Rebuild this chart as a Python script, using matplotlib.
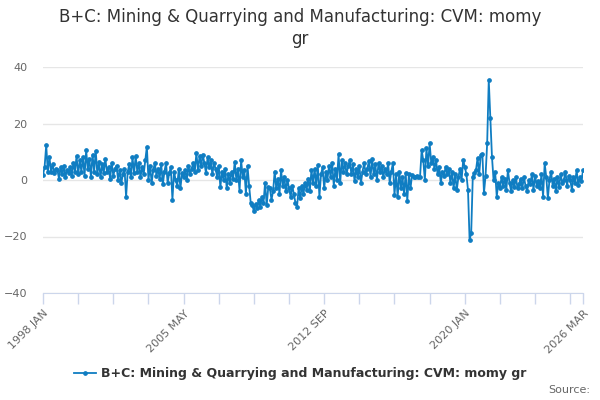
import numpy as np
import matplotlib.pyplot as plt

# monthly values, 1998 JAN .. 2026 MAR
y1998 = [1.8, 4.7, 12.4, 2.8, 8.2, 3.0, 5.5, 2.5, 4.0, 3.5, 0.5, 4.5]
y1999 = [2.0, 5.0, 1.0, 3.5, 2.5, 4.5, 1.5, 6.0, 3.0, 8.5, 2.0, 7.0]
y2000 = [3.0, 8.0, 1.5, 10.5, 4.0, 7.5, 1.0, 9.0, 3.0, 10.3, 2.0, 6.5]
y2001 = [1.0, 5.5, 2.5, 7.5, 3.0, 4.5, 0.5, 6.0, 1.5, 4.0, 5.0, 0.0]
y2002 = [3.5, -1.0, 2.0, 4.0, -6.0, 3.0, 5.5, 1.0, 8.0, 2.5, 8.5, 3.0]
y2003 = [6.0, 1.0, 4.5, 2.0, 7.0, 11.8, 0.0, 5.0, -1.0, 3.5, 6.0, 1.5]
y2004 = [4.0, 0.5, 5.5, -1.5, 3.0, 6.0, -1.0, 2.5, 4.5, -7.0, 3.0, 0.0]
y2005 = [-2.0, 4.0, -3.0, 2.5, 1.0, 3.5, 0.0, 5.0, 2.0, 4.0, 6.0, 3.0]
y2006 = [9.5, 3.5, 8.5, 5.0, 9.0, 6.0, 2.5, 8.0, 4.5, 7.0, 2.0, 6.0]
y2007 = [4.0, 1.0, 5.0, -2.5, 3.0, 0.0, 4.0, -3.0, 2.0, -1.0, 3.0, 0.5]
y2008 = [6.5, 0.0, 4.0, -4.0, 7.0, 1.0, 3.5, -5.0, 5.0, -2.0, -8.0, -9.0]
y2009 = [-11.0, -8.5, -10.0, -7.0, -9.5, -6.0, -8.0, -1.0, -9.0, -2.5, -3.0, -7.0]
y2010 = [-4.0, 3.0, -3.0, 0.5, -5.0, 3.5, -2.0, 1.0, -4.0, 0.0, -3.0, -6.0]
y2011 = [-2.0, -5.0, -8.0, -9.4, -3.0, -6.5, -2.0, -5.0, -1.0, -3.5, 0.5, -4.0]
y2012 = [3.5, -1.0, 4.0, -2.0, 5.3, -5.9, 2.0, 4.5, -3.0, 3.0, 0.0, 5.0]
y2013 = [1.0, 6.0, -2.0, 4.0, 0.0, 9.2, -1.0, 7.0, 3.0, 6.0, 2.0, 5.0]
y2014 = [7.0, 2.0, 5.5, -0.5, 4.0, 1.0, 5.0, -1.0, 3.0, 6.0, 2.0, 4.0]
y2015 = [6.8, 1.0, 7.4, 2.0, 5.5, 0.0, 6.0, 3.0, 5.0, 1.0, 4.0, 2.0]
y2016 = [6.0, -1.0, 3.0, 6.0, -5.3, 2.0, -6.0, 3.0, -3.0, 1.0, -5.0, 2.5]
y2017 = [-7.3, 2.0, -3.0, 1.8, 1.2, 1.0, 1.5, 1.0, 1.2, 10.6, 7.0, 0.0]
y2018 = [11.3, 5.0, 13.0, 6.0, 8.0, 4.0, 7.0, 2.0, 4.5, -1.0, 3.0, 1.5]
y2019 = [4.7, 2.0, 4.0, -1.0, 3.0, -2.9, 2.0, -3.5, 1.0, 4.0, 0.0, 7.0]
y2020 = [4.7, 2.0, -3.5, -21.2, -18.9, 1.2, 2.4, 3.5, 7.8, 2.0, 8.8, 9.3]
y2021 = [-4.6, 1.5, 13.0, 35.4, 21.8, 8.3, 0.0, 2.9, -5.9, -1.0, -3.0, 1.0]
y2022 = [-2.0, 0.5, -3.5, 3.5, -1.0, -4.0, 0.0, -2.5, 1.0, -3.0, -1.5, 0.5]
y2023 = [-3.0, 1.0, -2.0, -4.0, 0.0, -1.5, 2.0, -3.5, 1.5, -2.0, -0.5, -3.0]
y2024 = [2.0, -5.9, 5.9, 1.0, -6.5, 0.0, 3.0, -2.0, 0.5, -4.0, 1.0, -2.5]
y2025 = [2.0, -1.0, 0.0, 3.0, -2.0, 1.5, 0.0, -3.5, 1.0, -1.0, 3.5, -1.8]
y2026 = [1.0, -0.5, 3.5]

values = (y1998 + y1999 + y2000 + y2001 + y2002 + y2003 + y2004 + y2005
          + y2006 + y2007 + y2008 + y2009 + y2010 + y2011 + y2012 + y2013
          + y2014 + y2015 + y2016 + y2017 + y2018 + y2019 + y2020 + y2021
          + y2022 + y2023 + y2024 + y2025 + y2026)

tick_labels = {0: '1998 JAN', 88: '2005 MAY', 176: '2012 SEP', 264: '2020 JAN', 338: '2026 MAR'}
series_name = 'B+C: Mining & Quarrying and Manufacturing: CVM: momy gr'

line_color = '#0f7dc2'
axis_color = '#ccd6eb'

fig = plt.figure(figsize=(6, 4), dpi=100)
ax = fig.add_axes([0.0717, 0.2675, 0.9, 0.565])

x = np.arange(len(values))
ax.plot(x, values, color=line_color, lw=1.3, marker='o', ms=2.4,
        label=series_name, zorder=3)

ax.set_xlim(0, len(values) - 1)
ax.set_ylim(-40, 40)
ax.set_yticks([-40, -20, 0, 20, 40])
ax.yaxis.grid(True, color='#e6e6e6', lw=1)
ax.set_axisbelow(True)
ax.tick_params(axis='y', length=0, labelsize=8, labelcolor='#666666', pad=11)

xt = list(range(0, 331, 22)) + [338]
ax.set_xticks(xt)
ax.set_xticklabels([tick_labels.get(t, '') for t in xt], rotation=45,
                   ha='right', rotation_mode='anchor', fontsize=8, color='#666666')
ax.tick_params(axis='x', length=8, color=axis_color, width=1, pad=3)

for s in ['top', 'right', 'left']:
    ax.spines[s].set_visible(False)
ax.spines['bottom'].set_color(axis_color)

fig.text(0.5, 0.93, 'B+C: Mining & Quarrying and Manufacturing: CVM: momy\ngr',
         ha='center', va='center', fontsize=12, color='#333333', linespacing=1.3)

fig.legend(loc='center', bbox_to_anchor=(0.5, 0.065), frameon=False,
           prop={'size': 9, 'weight': 'bold'}, labelcolor='#333333',
           handlelength=1.8, handletextpad=0.4)
fig.text(0.983, 0.025, 'Source:', ha='right', va='center', fontsize=8, color='#666666')

fig.savefig('out.png', dpi=100)
